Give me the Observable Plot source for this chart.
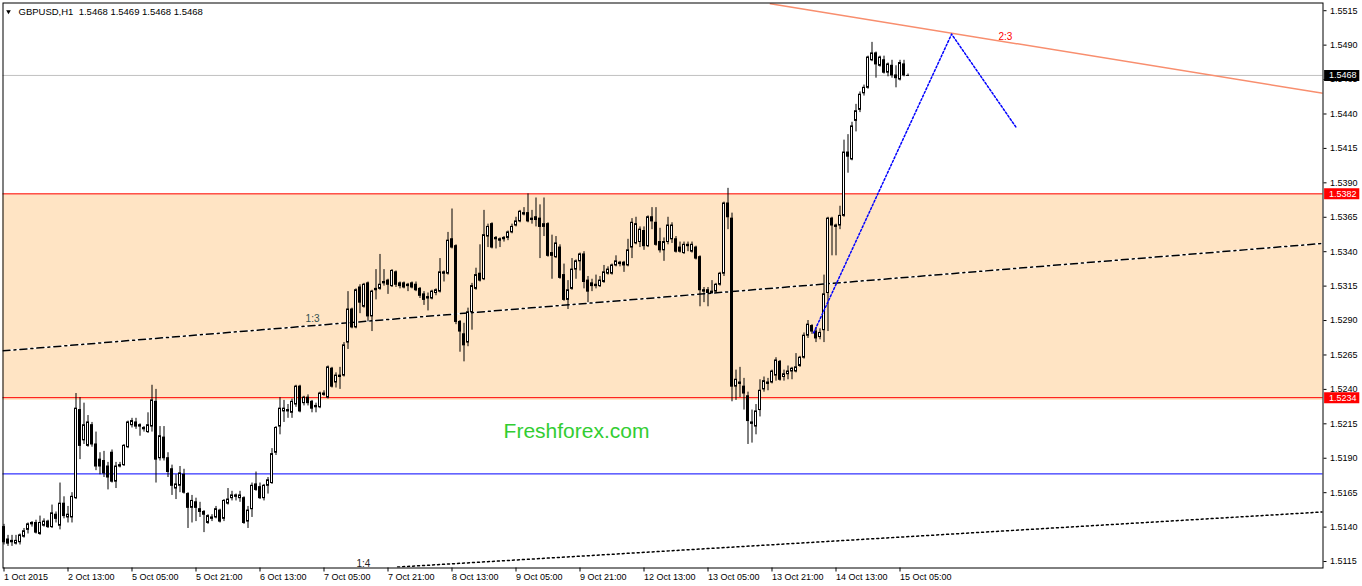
<!DOCTYPE html>
<html><head><meta charset="utf-8">
<script src="https://cdn.jsdelivr.net/npm/d3@7"></script>
<script src="https://cdn.jsdelivr.net/npm/@observablehq/plot@0.6"></script>
<style>
html,body{margin:0;padding:0;background:#fff;}
#chart svg{display:block;}
</style></head><body><div id="chart"></div>
<script>
// GBPUSD H1 bars (bar index 0 = 1 Oct 2015 21:00)
const opens = [1.5140,1.5131,1.5130,1.5128,1.5129,1.5133,1.5138,1.5142,1.5143,1.5135,
1.5141,1.5144,1.5140,1.5149,1.5141,1.5157,1.5147,1.5147,1.5161,1.5225,
1.5203,1.5199,1.5214,1.5200,1.5189,1.5188,1.5184,1.5194,1.5173,1.5184,
1.5185,1.5198,1.5214,1.5216,1.5214,1.5211,1.5209,1.5213,1.5231,1.5190,
1.5205,1.5190,1.5182,1.5168,1.5170,1.5178,1.5164,1.5154,1.5158,1.5153,
1.5151,1.5143,1.5146,1.5147,1.5152,1.5146,1.5157,1.5161,1.5163,1.5161,
1.5161,1.5144,1.5153,1.5171,1.5169,1.5161,1.5170,1.5172,1.5194,1.5213,
1.5224,1.5224,1.5223,1.5229,1.5242,1.5230,1.5234,1.5231,1.5228,1.5227,
1.5237,1.5234,1.5255,1.5245,1.5249,1.5250,1.5274,1.5298,1.5285,1.5314,
1.5300,1.5317,1.5293,1.5312,1.5313,1.5317,1.5319,1.5315,1.5325,1.5317,
1.5317,1.5315,1.5317,1.5316,1.5313,1.5309,1.5307,1.5306,1.5310,1.5311,
1.5325,1.5324,1.5349,1.5344,1.5289,1.5280,1.5274,1.5296,1.5313,1.5324,
1.5320,1.5351,1.5360,1.5350,1.5349,1.5349,1.5350,1.5354,1.5359,1.5362,
1.5368,1.5368,1.5364,1.5365,1.5364,1.5358,1.5360,1.5339,1.5336,1.5343,
1.5323,1.5305,1.5313,1.5327,1.5333,1.5338,1.5319,1.5317,1.5315,1.5315,
1.5318,1.5324,1.5324,1.5330,1.5332,1.5332,1.5330,1.5343,1.5346,1.5347,
1.5355,1.5344,1.5365,1.5361,1.5347,1.5341,1.5347,1.5349,1.5349,1.5343,
1.5339,1.5345,1.5340,1.5343,1.5336,1.5312,1.5312,1.5310,1.5311,1.5316,
1.5324,1.5375,1.5364,1.5242,1.5245,1.5242,1.5235,1.5216,1.5213,1.5225,
1.5240,1.5245,1.5245,1.5250,1.5260,1.5249,1.5251,1.5253,1.5253,1.5257,
1.5263,1.5279,1.5286,1.5282,1.5278,1.5283,1.5310,1.5364,1.5359,1.5359,
1.5366,1.5412,1.5407,1.5435,1.5443,1.5455,1.5459,1.5479,1.5484,1.5475,
1.5479,1.5470,1.5475,1.5468,1.5465,1.5476,1.5468];
const highs = [1.5142,1.5134,1.5134,1.5134,1.5135,1.5139,1.5143,1.5144,1.5145,1.5148,
1.5146,1.5145,1.5156,1.5151,1.5172,1.5162,1.5155,1.5165,1.5237,1.5234,
1.5230,1.5221,1.5216,1.5209,1.5194,1.5195,1.5187,1.5196,1.5187,1.5187,
1.5200,1.5217,1.5219,1.5219,1.5215,1.5213,1.5223,1.5243,1.5240,1.5213,
1.5213,1.5194,1.5185,1.5178,1.5184,1.5182,1.5165,1.5163,1.5161,1.5158,
1.5152,1.5149,1.5149,1.5155,1.5153,1.5160,1.5168,1.5166,1.5164,1.5166,
1.5162,1.5155,1.5172,1.5180,1.5172,1.5171,1.5176,1.5197,1.5213,1.5234,
1.5232,1.5229,1.5233,1.5243,1.5243,1.5235,1.5236,1.5232,1.5230,1.5238,
1.5239,1.5257,1.5256,1.5252,1.5256,1.5274,1.5311,1.5299,1.5313,1.5316,
1.5317,1.5318,1.5312,1.5327,1.5338,1.5327,1.5320,1.5327,1.5326,1.5318,
1.5318,1.5317,1.5318,1.5318,1.5314,1.5311,1.5310,1.5312,1.5313,1.5335,
1.5326,1.5354,1.5371,1.5345,1.5290,1.5288,1.5299,1.5317,1.5328,1.5345,
1.5370,1.5360,1.5361,1.5351,1.5350,1.5351,1.5355,1.5360,1.5365,1.5370,
1.5372,1.5382,1.5370,1.5379,1.5374,1.5379,1.5361,1.5352,1.5351,1.5345,
1.5331,1.5319,1.5335,1.5334,1.5339,1.5340,1.5322,1.5320,1.5323,1.5322,
1.5330,1.5329,1.5331,1.5337,1.5333,1.5333,1.5349,1.5364,1.5365,1.5358,
1.5358,1.5366,1.5372,1.5372,1.5357,1.5350,1.5365,1.5361,1.5351,1.5347,
1.5347,1.5347,1.5347,1.5344,1.5337,1.5314,1.5314,1.5319,1.5317,1.5325,
1.5376,1.5386,1.5368,1.5254,1.5256,1.5248,1.5238,1.5225,1.5229,1.5247,
1.5249,1.5248,1.5254,1.5263,1.5261,1.5254,1.5257,1.5256,1.5266,1.5264,
1.5281,1.5290,1.5287,1.5285,1.5284,1.5323,1.5365,1.5365,1.5360,1.5373,
1.5421,1.5425,1.5434,1.5447,1.5456,1.5461,1.5482,1.5492,1.5485,1.5482,
1.5482,1.5477,1.5479,1.5475,1.5479,1.5479,1.5469];
const lows = [1.5127,1.5126,1.5126,1.5127,1.5127,1.5132,1.5135,1.5140,1.5135,1.5134,
1.5140,1.5139,1.5139,1.5143,1.5138,1.5146,1.5143,1.5143,1.5160,1.5189,
1.5200,1.5198,1.5198,1.5181,1.5178,1.5176,1.5167,1.5172,1.5168,1.5183,
1.5184,1.5197,1.5212,1.5211,1.5206,1.5209,1.5208,1.5209,1.5172,1.5188,
1.5188,1.5176,1.5163,1.5160,1.5165,1.5164,1.5139,1.5143,1.5144,1.5147,
1.5136,1.5142,1.5144,1.5146,1.5143,1.5144,1.5156,1.5159,1.5159,1.5158,
1.5142,1.5139,1.5147,1.5166,1.5160,1.5159,1.5164,1.5171,1.5192,1.5207,
1.5216,1.5219,1.5219,1.5227,1.5223,1.5228,1.5228,1.5223,1.5223,1.5226,
1.5235,1.5233,1.5241,1.5241,1.5240,1.5249,1.5269,1.5284,1.5284,1.5295,
1.5299,1.5289,1.5282,1.5305,1.5312,1.5315,1.5309,1.5314,1.5314,1.5313,
1.5313,1.5311,1.5313,1.5311,1.5306,1.5301,1.5297,1.5305,1.5308,1.5310,
1.5318,1.5323,1.5342,1.5287,1.5267,1.5260,1.5271,1.5283,1.5312,1.5318,
1.5319,1.5343,1.5342,1.5342,1.5343,1.5347,1.5348,1.5353,1.5358,1.5361,
1.5366,1.5361,1.5360,1.5358,1.5335,1.5351,1.5336,1.5320,1.5335,1.5320,
1.5304,1.5298,1.5312,1.5320,1.5326,1.5313,1.5303,1.5311,1.5313,1.5314,
1.5317,1.5323,1.5323,1.5329,1.5329,1.5325,1.5329,1.5335,1.5345,1.5343,
1.5341,1.5343,1.5356,1.5344,1.5339,1.5333,1.5345,1.5346,1.5339,1.5339,
1.5338,1.5340,1.5339,1.5334,1.5300,1.5303,1.5300,1.5309,1.5310,1.5315,
1.5322,1.5356,1.5231,1.5232,1.5234,1.5225,1.5200,1.5201,1.5207,1.5220,
1.5238,1.5239,1.5244,1.5246,1.5246,1.5246,1.5247,1.5247,1.5252,1.5256,
1.5262,1.5277,1.5280,1.5274,1.5276,1.5274,1.5282,1.5337,1.5337,1.5356,
1.5365,1.5397,1.5406,1.5427,1.5441,1.5453,1.5458,1.5478,1.5466,1.5474,
1.5469,1.5467,1.5466,1.5459,1.5464,1.5467,1.5468];
const closes = [1.5129,1.5128,1.5129,1.5130,1.5134,1.5137,1.5142,1.5143,1.5136,1.5143,
1.5144,1.5140,1.5150,1.5146,1.5157,1.5148,1.5149,1.5162,1.5226,1.5199,
1.5214,1.5216,1.5200,1.5184,1.5184,1.5179,1.5176,1.5173,1.5184,1.5185,
1.5199,1.5216,1.5217,1.5213,1.5213,1.5212,1.5214,1.5232,1.5189,1.5206,
1.5190,1.5180,1.5170,1.5171,1.5179,1.5165,1.5154,1.5159,1.5154,1.5151,
1.5149,1.5148,1.5147,1.5153,1.5144,1.5159,1.5160,1.5163,1.5162,1.5163,
1.5143,1.5152,1.5170,1.5167,1.5161,1.5170,1.5174,1.5193,1.5212,1.5226,
1.5226,1.5225,1.5231,1.5242,1.5224,1.5234,1.5230,1.5226,1.5227,1.5237,
1.5236,1.5256,1.5242,1.5250,1.5250,1.5272,1.5298,1.5285,1.5312,1.5303,
1.5316,1.5293,1.5311,1.5313,1.5316,1.5318,1.5316,1.5326,1.5316,1.5315,
1.5314,1.5316,1.5314,1.5312,1.5308,1.5305,1.5306,1.5311,1.5312,1.5325,
1.5324,1.5348,1.5343,1.5289,1.5282,1.5272,1.5296,1.5315,1.5323,1.5319,
1.5352,1.5358,1.5343,1.5349,1.5348,1.5350,1.5354,1.5358,1.5362,1.5369,
1.5367,1.5362,1.5363,1.5363,1.5358,1.5360,1.5337,1.5337,1.5346,1.5321,
1.5305,1.5312,1.5327,1.5333,1.5338,1.5318,1.5311,1.5315,1.5316,1.5319,
1.5325,1.5327,1.5330,1.5333,1.5331,1.5330,1.5341,1.5361,1.5360,1.5356,
1.5344,1.5365,1.5362,1.5345,1.5341,1.5347,1.5359,1.5359,1.5340,1.5340,
1.5345,1.5344,1.5345,1.5335,1.5312,1.5311,1.5310,1.5311,1.5316,1.5324,
1.5375,1.5365,1.5242,1.5247,1.5244,1.5237,1.5217,1.5215,1.5224,1.5239,
1.5246,1.5244,1.5253,1.5261,1.5247,1.5251,1.5253,1.5255,1.5256,1.5263,
1.5279,1.5287,1.5282,1.5277,1.5281,1.5309,1.5364,1.5359,1.5358,1.5366,
1.5412,1.5409,1.5431,1.5442,1.5454,1.5459,1.5481,1.5484,1.5476,1.5481,
1.5470,1.5476,1.5468,1.5466,1.5477,1.5468,1.5468];

// time axis labels (every 16 bars)
const dateTickBars = [0,16,32,48,64,80,96,112,128,144,160,176,192,208,224];
const dateLabels = ["1 Oct 2015","2 Oct 13:00","5 Oct 05:00","5 Oct 21:00","6 Oct 13:00","7 Oct 05:00","7 Oct 21:00","8 Oct 13:00","9 Oct 05:00","9 Oct 21:00","12 Oct 13:00","13 Oct 05:00","13 Oct 21:00","14 Oct 13:00","15 Oct 05:00"];
// price axis labels
const priceTicks = [1.5115,1.5140,1.5165,1.5190,1.5215,1.5240,1.5265,1.5290,1.5315,1.5340,1.5365,1.5390,1.5415,1.5440,1.5465,1.5490,1.5515];

// horizontal levels
const zoneLow = 1.5232, zoneHigh = 1.5382;
const redLevels = [1.5382, 1.5234];
const blueLevel = [1.5179];
const lastPrice = [1.5468];
const priceBoxes = [{p: 1.5468, bg: "black"}, {p: 1.5382, bg: "red"}, {p: 1.5234, bg: "red"}];

// trend lines (bar index, price)
const line13 = [{i: -0.25, p: 1.5268}, {i: 329.75, p: 1.5346}];
const line14 = [{i: 98.4, p: 1.5111}, {i: 329.75, p: 1.5151}];
const line23 = [{i: 191.6, p: 1.5520}, {i: 329.75, p: 1.5455}];
const projection = [{i: 202.4, p: 1.5281}, {i: 236.9, p: 1.5498}, {i: 253.1, p: 1.5430}];
const lineLabels = [
  {i: 75.4, p: 1.52886, text: "1:3", color: "#2f4f4f"},
  {i: 88.1, p: 1.51112, text: "1:4", color: "#222222"},
  {i: 248.6, p: 1.54934, text: "2:3", color: "red"}
];
const watermark = [{i: 124.9, p: 1.52047, text: "Freshforex.com"}];

const bars = opens.map((o, i) => ({i, o, h: highs[i], l: lows[i], c: closes[i]}));
const bull = bars.filter(d => d.c > d.o);
const bear = bars.filter(d => d.c < d.o);
const doji = bars.filter(d => d.c === d.o);
const last = bars[bars.length - 1];
const f4 = d3.format(".4f");
const title = `GBPUSD,H1\u00a0\u00a0${f4(last.o)} ${f4(last.h)} ${f4(last.l)} ${f4(last.c)}`;

const X0 = -0.25, X1 = 329.75;
const font = "'Liberation Sans', Arial, sans-serif";

const chart = Plot.plot({
  width: 1362, height: 586,
  marginLeft: 2.5, marginRight: 39.5, marginTop: 2.5, marginBottom: 18.5,
  x: {domain: [X0, X1], label: null},
  y: {domain: [1.51103, 1.55206], label: null},
  style: {fontFamily: font, fontSize: "9px", background: "white", color: "black", overflow: "visible"},
  marks: [
    Plot.rect([0], {x1: X0, x2: X1, y1: zoneLow, y2: zoneHigh, fill: "#ffe4c4"}),
    Plot.ruleY(lastPrice, {y: d => d, stroke: "silver"}),
    Plot.ruleY(redLevels, {y: d => d, stroke: "red"}),
    Plot.ruleY(blueLevel, {y: d => d, stroke: "blue", dy: 0.5}),
    Plot.line(line13, {x: "i", y: "p", stroke: "white", clip: true}),
    Plot.line(line13, {x: "i", y: "p", stroke: "black", strokeDasharray: "7,4,2,4", clip: true}),
    Plot.line(line14, {x: "i", y: "p", stroke: "black", strokeDasharray: "2,3", clip: true}),
    Plot.line(line23, {x: "i", y: "p", stroke: "#f88e6e", clip: true}),
    Plot.ruleX(bars, {x: "i", y1: "l", y2: "h", stroke: "black", strokeWidth: 1}),
    Plot.rect(bull, {x1: d => d.i - 0.25, x2: d => d.i + 0.25, y1: "o", y2: "c", fill: "white", stroke: "black", strokeWidth: 1}),
    Plot.rect(bear, {x1: d => d.i - 0.25, x2: d => d.i + 0.25, y1: "o", y2: "c", fill: "black", stroke: "black", strokeWidth: 1}),
    Plot.ruleY(doji, {y: "c", x1: d => d.i - 0.375, x2: d => d.i + 0.375, stroke: "black"}),
    Plot.line(projection, {x: "i", y: "p", stroke: "blue", strokeDasharray: "2,2", clip: true}),
    Plot.text(lineLabels, {x: "i", y: "p", text: "text", fill: "color", textAnchor: "start", lineAnchor: "bottom", fontSize: 10}),
    Plot.text(watermark, {x: "i", y: "p", text: "text", fill: "#32cd32", textAnchor: "start", lineAnchor: "bottom", fontSize: 21}),
    Plot.dot([0], {frameAnchor: "top-left", dx: 5.5, dy: 8.5, symbol: "triangle", r: 1.7, fill: "black", stroke: "none", rotate: 180}),
    Plot.text([title], {frameAnchor: "top-left", dx: 15.5, dy: 5.5, textAnchor: "start", lineAnchor: "top", fontSize: 9.5, fill: "black"}),
    Plot.frame({stroke: "black"}),
    Plot.axisY(priceTicks, {anchor: "right", label: null, tickSize: 3, tickPadding: 4, tickFormat: f4, fontSize: 9}),
    Plot.axisX(dateTickBars, {anchor: "bottom", label: null, tickSize: 4, tickPadding: 2, textAnchor: "start", tickFormat: d => dateLabels[dateTickBars.indexOf(d)], fontSize: 9}),
    Plot.ruleY(priceBoxes, {y: "p", x1: X1 + 0.4, x2: X1 + 9.2, stroke: "bg", strokeWidth: 11}),
    Plot.text(priceBoxes, {y: "p", text: d => f4(d.p), frameAnchor: "right", dx: 6, textAnchor: "start", fill: "white", fontSize: 9})
  ]
});
document.getElementById("chart").appendChild(chart);
</script></body></html>
